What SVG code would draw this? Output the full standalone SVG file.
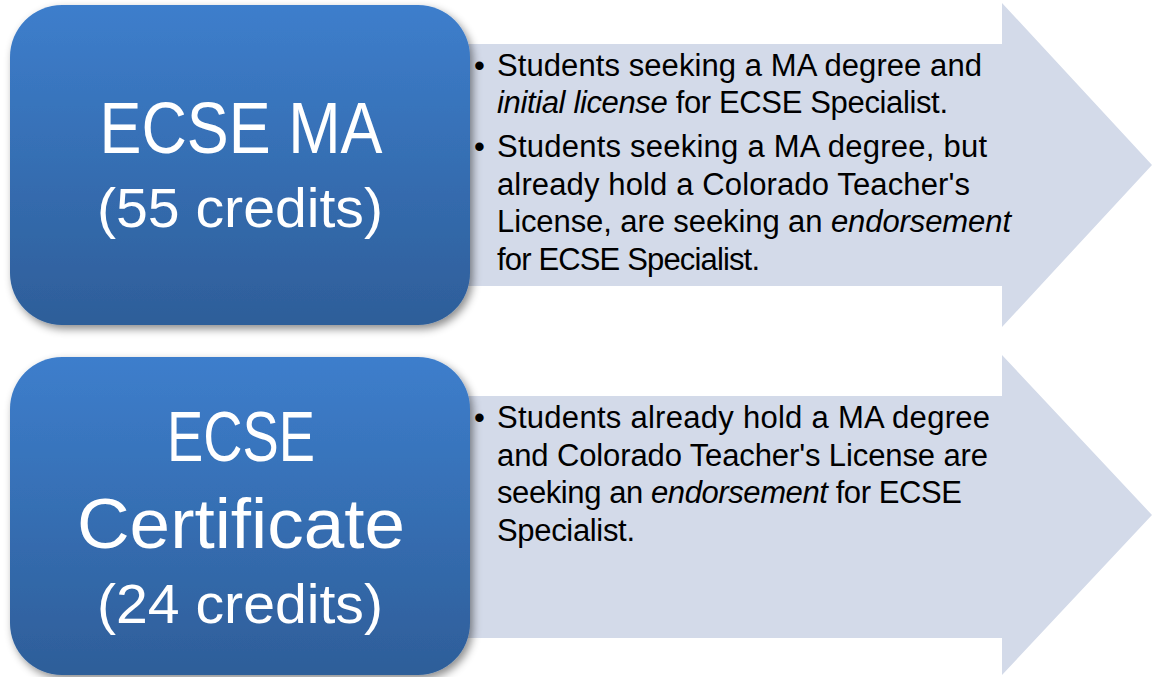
<svg xmlns="http://www.w3.org/2000/svg" width="1152" height="677" viewBox="0 0 1152 677">
<defs>
<linearGradient id="blueGrad" x1="0" y1="0" x2="0" y2="1">
<stop offset="0" stop-color="#3D7ECC"/>
<stop offset="1" stop-color="#2E5E99"/>
</linearGradient>
<filter id="shadow" x="-10%" y="-10%" width="125%" height="130%">
<feDropShadow dx="3" dy="4" stdDeviation="4" flood-color="#000" flood-opacity="0.45"/>
</filter>
</defs>
<style>
.arrow{fill:#D3DAE9;}
.box{fill:url(#blueGrad);filter:url(#shadow);}
.big{font-family:"Liberation Sans",Arial,sans-serif;fill:#FFFFFF;text-anchor:middle;}
.body{font-family:"Liberation Sans",Arial,sans-serif;font-size:31px;fill:#000000;}
.it{font-style:italic;}
</style>
<g id="connectors">
<polygon id="arrow1" class="arrow" points="460,44 1002,44 1002,3 1152,165 1002,327 1002,286 460,286"/>
<polygon id="arrow2" class="arrow" points="460,396 1002,396 1002,355 1152,515 1002,675 1002,638 460,638"/>
</g>
<g id="node-ma">
<rect class="box" x="10" y="5" width="460" height="320" rx="52" ry="52"/>
<text class="big" x="241" y="153" font-size="72" textLength="283" lengthAdjust="spacingAndGlyphs">ECSE MA</text>
<text class="big" x="240" y="227" font-size="55" textLength="286" lengthAdjust="spacingAndGlyphs">(55 credits)</text>
</g>
<g id="node-cert">
<rect class="box" x="10" y="357" width="460" height="318" rx="52" ry="52"/>
<text class="big" x="241" y="461" font-size="70" textLength="148" lengthAdjust="spacingAndGlyphs">ECSE</text>
<text class="big" x="241" y="548" font-size="70" textLength="328" lengthAdjust="spacingAndGlyphs">Certificate</text>
<text class="big" x="240" y="623" font-size="56" textLength="286" lengthAdjust="spacingAndGlyphs">(24 credits)</text>
</g>
<g id="text-ma">
<text class="body" x="474" y="76">•</text>
<text class="body" x="497" y="76" textLength="485">Students seeking a MA degree and</text>
<text class="body" x="497" y="113" textLength="451"><tspan class="it">initial license</tspan> for ECSE Specialist.</text>
<text class="body" x="474" y="157">•</text>
<text class="body" x="497" y="157" textLength="490">Students seeking a MA degree, but</text>
<text class="body" x="497" y="195" textLength="473">already hold a Colorado Teacher's</text>
<text class="body" x="497" y="232" textLength="514">License, are seeking an <tspan class="it">endorsement</tspan></text>
<text class="body" x="497" y="270" textLength="263">for ECSE Specialist.</text>
</g>
<g id="text-cert">
<text class="body" x="474" y="428">•</text>
<text class="body" x="497" y="428" textLength="493">Students already hold a MA degree</text>
<text class="body" x="497" y="466" textLength="491">and Colorado Teacher's License are</text>
<text class="body" x="497" y="503" textLength="465">seeking an <tspan class="it">endorsement</tspan> for ECSE</text>
<text class="body" x="497" y="541" textLength="138">Specialist.</text>
</g>
</svg>
